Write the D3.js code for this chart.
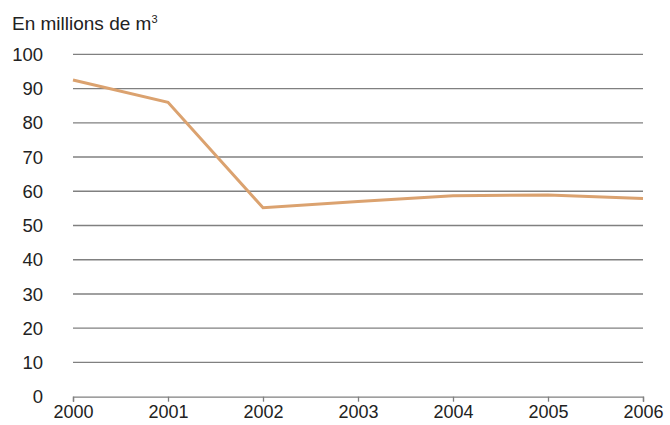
<!DOCTYPE html>
<html>
<head>
<meta charset="utf-8">
<script src="https://cdn.jsdelivr.net/npm/d3@7"></script>
<style>
    body { margin: 0; background: #fff; }
    text { font-family: "Liberation Sans", Arial, sans-serif; fill: #222; }
</style>
</head>
<body>
<div id="chart"></div>
<script>
const years = ['2000', '2001', '2002', '2003', '2004', '2005', '2006'];
const volumes = [92.5, 86.0, 55.2, 57.0, 58.7, 58.9, 57.9];
const yTicks = [0, 10, 20, 30, 40, 50, 60, 70, 80, 90, 100];

const width = 670;
const height = 425;
const margin = { top: 54.3, right: 27, bottom: 28.3, left: 73 };
const graphWidth = width - margin.left - margin.right;
const graphHeight = height - margin.top - margin.bottom;

const svg = d3.select('#chart').append('svg').attr('width', width).attr('height', height);

svg.append('text')
    .attr('x', 12)
    .attr('y', 30)
    .attr('font-size', 19)
    .text('En millions de m')
    .append('tspan')
    .attr('font-size', 11)
    .attr('dy', -7)
    .text('3');

const graph = svg.append('g').attr('transform', `translate(${margin.left}, ${margin.top})`);

const xScale = d3.scalePoint().domain(years).range([0, graphWidth]);
const yScale = d3.scaleLinear().domain([0, 100]).range([graphHeight, 0]);

// horizontal grid
graph.append('g')
    .selectAll('line')
    .data(yTicks.filter((d) => d > 0))
    .enter()
    .append('line')
    .attr('x1', 0)
    .attr('x2', graphWidth)
    .attr('y1', (d) => yScale(d))
    .attr('y2', (d) => yScale(d))
    .attr('stroke', '#808080')
    .attr('stroke-width', 1.3);

// y labels
graph.append('g')
    .selectAll('text')
    .data(yTicks)
    .enter()
    .append('text')
    .attr('x', -30)
    .attr('y', (d) => yScale(d))
    .attr('dy', '0.36em')
    .attr('text-anchor', 'end')
    .attr('font-size', 18.5)
    .text((d) => d);

// x axis
const xAxis = graph.append('g')
    .attr('transform', `translate(0, ${graphHeight})`)
    .call(d3.axisBottom(xScale).tickSize(5).tickPadding(4));
xAxis.select('.domain').attr('stroke', '#808080').attr('stroke-width', 1.3);
xAxis.selectAll('.tick line').attr('stroke', '#808080').attr('stroke-width', 1.3);
xAxis.selectAll('.tick text')
    .attr('font-size', 18)
    .attr('font-family', '"Liberation Sans", Arial, sans-serif')
    .attr('fill', '#222');

// series line
const line = d3.line()
    .x((d, i) => xScale(years[i]))
    .y((d) => yScale(d));

graph.append('path')
    .datum(volumes)
    .attr('fill', 'none')
    .attr('stroke', '#dba26f')
    .attr('stroke-width', 3)
    .attr('d', line);
</script>
</body>
</html>
